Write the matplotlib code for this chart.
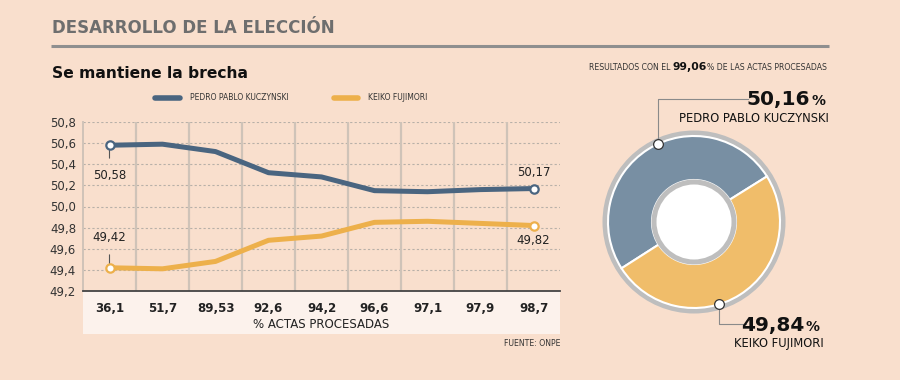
import matplotlib
matplotlib.use("Agg")
import matplotlib.pyplot as plt
from matplotlib.patches import Circle, Rectangle
import numpy as np

# data
actas = ["36,1", "51,7", "89,53", "92,6", "94,2", "96,6", "97,1", "97,9", "98,7"]
ppk = [50.58, 50.59, 50.52, 50.32, 50.28, 50.15, 50.14, 50.16, 50.17]
keiko = [49.42, 49.41, 49.48, 49.68, 49.72, 49.85, 49.86, 49.84, 49.82]
y_ticks = [49.2, 49.4, 49.6, 49.8, 50.0, 50.2, 50.4, 50.6, 50.8]
resultado = [50.16, 49.84]
candidatos = ["PEDRO PABLO KUCZYNSKI", "KEIKO FUJIMORI"]
actas_total = "99,06"

BG = "#F9DFCD"
BAND = "#FCF2EC"
BLUE = "#4A6580"
ORANGE = "#EDB04B"
BLUE_D = "#788FA3"
ORANGE_D = "#F0BD6A"
RING = "#BEBEBE"

plt.rcParams['font.family'] = ['DejaVu Sans']


def fmt(v):
    return f"{v:.2f}".replace(".", ",")


fig = plt.figure(figsize=(9, 3.8), dpi=100, facecolor=BG)

# overlay in pixel coordinates for titles, band, legend, notes
ov = fig.add_axes([0, 0, 1, 1], zorder=0)
ov.set_xlim(0, 900)
ov.set_ylim(380, 0)
ov.axis("off")

ov.text(52, 28, "DESARROLLO DE LA ELECCIÓN", fontsize=12, fontweight="bold",
        color="#6E6E6E", va="center", ha="left")
ov.plot([51, 829], [46, 46], color="#8F8F8F", lw=2.2, solid_capstyle="butt")
ov.text(52, 74, "Se mantiene la brecha", fontsize=11.2, fontweight="bold",
        color="#111111", va="center", ha="left")

# legend
ov.plot([155, 180], [98, 98], color=BLUE, lw=4, solid_capstyle="round")
ov.text(190, 98, candidatos[0], fontsize=5.5, color="#333333", va="center")
ov.plot([334, 358], [98, 98], color=ORANGE, lw=4, solid_capstyle="round")
ov.text(368, 98, candidatos[1], fontsize=5.5, color="#333333", va="center")

# category band under the line chart
ov.add_patch(Rectangle((83, 291), 477, 43, facecolor=BAND, edgecolor="none"))
ov.text(321, 325, "% ACTAS PROCESADAS", fontsize=8.5, color="#222222",
        ha="center", va="center")
ov.text(560, 343, "FUENTE: ONPE", fontsize=5.6, color="#333333",
        ha="right", va="center")

t1 = ov.text(589, 67, "RESULTADOS CON EL ", fontsize=5.6, color="#333333",
             ha="left", va="center")
t2 = ov.annotate(actas_total, xy=(1, 0.5), xycoords=t1, fontsize=7.8,
                 fontweight="bold", color="#111111", ha="left", va="center")
ov.annotate("% DE LAS ACTAS PROCESADAS", xy=(1, 0.5), xycoords=t2,
            fontsize=5.6, color="#333333", ha="left", va="center")

# line chart
ax = fig.add_axes([83 / 900, 1 - 291 / 380, 477 / 900, (291 - 122) / 380], zorder=2)
ax.set_facecolor("none")
x = np.arange(len(actas))
ax.set_xlim(-0.5, len(actas) - 0.5)
ax.set_ylim(49.2, 50.8)
for yv in y_ticks[1:]:
    ax.axhline(yv, color="#B8B0A8", lw=0.8, ls=(0, (2, 2)), zorder=1)
for xv in x[:-1] + 0.5:
    ax.axvline(xv, color="#CFC3B8", lw=1.6, zorder=1)
for s in ["top", "right"]:
    ax.spines[s].set_visible(False)
ax.spines["left"].set_color("#CFC3B8")
ax.spines["left"].set_linewidth(1.4)
ax.spines["bottom"].set_color("#444444")
ax.spines["bottom"].set_linewidth(1.3)
ax.set_yticks(y_ticks)
ax.set_yticklabels([f"{v:.1f}".replace(".", ",") for v in y_ticks],
                   fontsize=8.5, color="#333333")
ax.set_xticks(x)
ax.set_xticklabels(actas, fontsize=8.5, fontweight="bold", color="#222222")
ax.tick_params(length=0, pad=5)
ax.tick_params(axis="x", pad=8)

ax.plot(x, ppk, color=BLUE, lw=3.6, zorder=3, solid_capstyle="round")
ax.plot(x, keiko, color=ORANGE, lw=3.6, zorder=3, solid_capstyle="round")
for serie, col in [(ppk, BLUE), (keiko, ORANGE)]:
    ax.plot([x[0], x[-1]], [serie[0], serie[-1]], "o", ms=6, mfc="white",
            mec=col, mew=1.6, zorder=4)

line_kw = dict(arrowstyle="-", color="#555555", lw=0.8, shrinkA=6, shrinkB=3)
ax.annotate(fmt(ppk[0]), xy=(x[0], ppk[0]), xytext=(0, -22),
            textcoords="offset points", ha="center", va="center",
            fontsize=8.5, color="#222222", arrowprops=line_kw)
ax.annotate(fmt(keiko[0]), xy=(x[0], keiko[0]), xytext=(0, 22),
            textcoords="offset points", ha="center", va="center",
            fontsize=8.5, color="#222222", arrowprops=line_kw)
ax.annotate(fmt(ppk[-1]), xy=(x[-1], ppk[-1]), xytext=(0, 11.5),
            textcoords="offset points", ha="center", va="center",
            fontsize=8.5, color="#222222")
ax.annotate(fmt(keiko[-1]), xy=(x[-1], keiko[-1]), xytext=(0, -10.5),
            textcoords="offset points", ha="center", va="center",
            fontsize=8.5, color="#222222")

# donut, axes units = pixels around the centre (694, 222)
cx, cy = 694, 222
da = fig.add_axes([(cx - 100) / 900, 1 - (cy + 100) / 380, 200 / 900, 200 / 380],
                  zorder=2)
da.add_patch(Circle((0, 0), 91.5, facecolor=RING, edgecolor="none", zorder=0))
da.pie(resultado, colors=[BLUE_D, ORANGE_D], radius=86, startangle=32,
       counterclock=True,
       wedgeprops=dict(width=44, edgecolor="white", linewidth=1.5))
da.add_patch(Circle((0, 0), 42.5, facecolor=RING, edgecolor="none", zorder=3))
da.add_patch(Circle((0, 0), 37.5, facecolor="white", edgecolor="none", zorder=4))
da.set_xlim(-100, 100)
da.set_ylim(-100, 100)
da.set_aspect("equal")
da.axis("off")

# markers and leader lines (overlay pixel coordinates)
ov2 = fig.add_axes([0, 0, 1, 1], zorder=3)
ov2.set_xlim(0, 900)
ov2.set_ylim(380, 0)
ov2.axis("off")
ov2.plot([658, 658, 748], [144, 99, 99], color="#8A8A8A", lw=0.8)
ov2.plot([719, 719, 746], [304, 324, 324], color="#8A8A8A", lw=0.8)
ov2.plot([658, 719], [144, 304], "o", ms=7, mfc="white", mec="#333333", mew=0.9)

ov2.text(810, 99, fmt(resultado[0]), fontsize=14.5, fontweight="bold",
         color="#111111", ha="right", va="center")
ov2.text(811, 101, "%", fontsize=10, fontweight="bold", color="#111111",
         ha="left", va="center")
ov2.text(829, 118, candidatos[0], fontsize=8.3, color="#111111",
         ha="right", va="center")
ov2.text(804, 325, fmt(resultado[1]), fontsize=14.5, fontweight="bold",
         color="#111111", ha="right", va="center")
ov2.text(805, 327, "%", fontsize=10, fontweight="bold", color="#111111",
         ha="left", va="center")
ov2.text(824, 344, candidatos[1], fontsize=8.3, color="#111111",
         ha="right", va="center")

fig.savefig("out.png", dpi=100, facecolor=BG)
